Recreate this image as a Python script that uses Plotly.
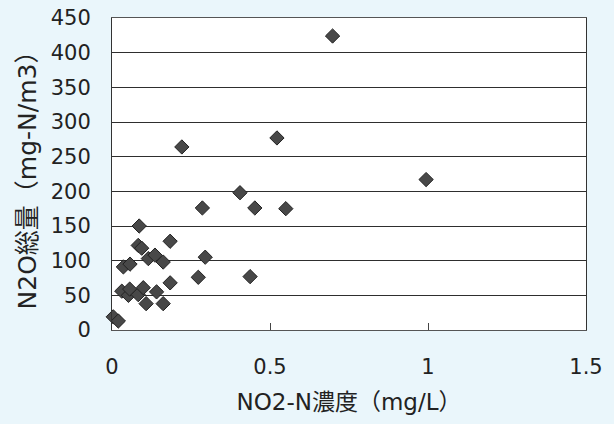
import plotly.graph_objects as go

# NO2-N concentration (mg/L)
no2_n = [0.004, 0.020, 0.031, 0.052, 0.056, 0.083, 0.099, 0.108, 0.141, 0.162,
         0.036, 0.057, 0.086, 0.083, 0.094, 0.115, 0.136, 0.162, 0.184, 0.184,
         0.221, 0.273, 0.286, 0.295, 0.405, 0.437, 0.452, 0.550, 0.522, 0.698,
         0.994]
# N2O total (mg-N/m3)
n2o_total = [19, 13, 56, 50, 59, 51, 61, 38, 55, 38,
             91, 95, 150, 122, 118, 103, 108, 98, 128, 68,
             264, 76, 176, 105, 198, 77, 176, 175, 277, 424,
             217]

x_ticks = [0, 0.5, 1, 1.5]
x_tick_text = ["0", "0.5", "1", "1.5"]
y_ticks = [0, 50, 100, 150, 200, 250, 300, 350, 400, 450]

x_title = "NO2-N濃度（mg/L）"
y_title = "N2O総量（mg-N/m3）"

FONT = "DejaVu Sans, Noto Sans CJK JP, sans-serif"
BG = "#eaf6fb"

fig = go.Figure()
fig.add_trace(go.Scatter(
    x=no2_n, y=n2o_total, mode="markers",
    marker=dict(symbol="diamond", size=11, color="#484848",
                line=dict(color="#222222", width=1)),
    cliponaxis=False, showlegend=False,
))

fig.update_layout(
    width=614, height=424,
    paper_bgcolor=BG, plot_bgcolor="#ffffff",
    margin=dict(l=112, r=28, t=18, b=94),
    font=dict(family=FONT, size=21, color="#222222"),
    xaxis=dict(
        range=[0, 1.5], tickvals=x_ticks, ticktext=x_tick_text,
        showgrid=False, zeroline=False,
        showline=True, linecolor="#555555", linewidth=1, mirror=True,
        ticks="inside", ticklen=7, tickcolor="#444444",
        ticklabelstandoff=18,
        tickfont=dict(family=FONT, size=21, color="#222222"),
        title=dict(text=x_title, standoff=15,
                   font=dict(family=FONT, size=23, color="#222222")),
        automargin=False,
    ),
    yaxis=dict(
        range=[0, 450], tickvals=y_ticks,
        showgrid=True, gridcolor="#2e2e2e", gridwidth=1.2,
        zeroline=False,
        showline=True, linecolor="#333333", linewidth=1, mirror=True,
        ticks="", ticklabelstandoff=16,
        tickfont=dict(family=FONT, size=21, color="#222222"),
        title=dict(text=y_title, standoff=6,
                   font=dict(family=FONT, size=25, color="#222222")),
        automargin=False,
    ),
)

fig.write_html(
    "out.html",
    config={"displayModeBar": False},
    post_script="document.body.style.margin='0';"
                "document.body.style.background='" + BG + "';",
)
